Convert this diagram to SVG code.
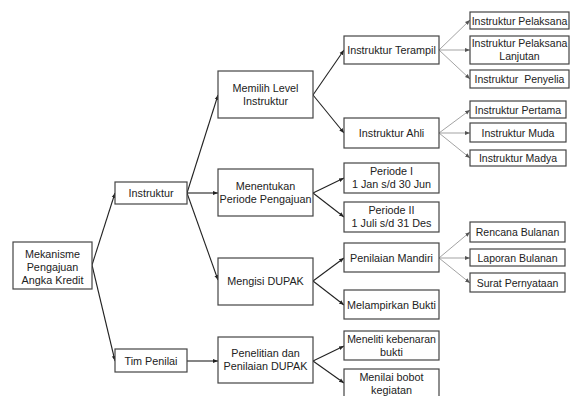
<svg xmlns="http://www.w3.org/2000/svg" width="571" height="396" viewBox="0 0 571 396">
<defs>
<marker id="ah" markerWidth="6" markerHeight="6" refX="5" refY="3" orient="auto" markerUnits="userSpaceOnUse">
<path d="M0,1 L5,3 L0,5 Z" fill="#222"/>
</marker>
<marker id="ahl" markerWidth="6" markerHeight="6" refX="5" refY="3" orient="auto" markerUnits="userSpaceOnUse">
<path d="M0,1 L5,3 L0,5 Z" fill="#555"/>
</marker>
<style>
rect{fill:#fff;stroke:#444;stroke-width:1.2}
text{font-family:"Liberation Sans",Arial,sans-serif;font-size:10.8px;fill:#222;text-anchor:middle}
.s{font-size:10.5px}
.d{stroke:#222;stroke-width:1.1;fill:none;marker-end:url(#ah)}
.l{stroke:#999;stroke-width:0.9;fill:none;marker-end:url(#ahl)}
</style>
</defs>
<rect x="0" y="0" width="571" height="396" style="fill:#fff;stroke:none"/>
<g id="connectors">
<line class="d" x1="92" y1="265" x2="115" y2="193"/>
<line class="d" x1="92" y1="265" x2="115" y2="361"/>
<line class="d" x1="187" y1="193" x2="218" y2="95"/>
<line class="d" x1="187" y1="193" x2="218" y2="193"/>
<line class="d" x1="187" y1="193" x2="218" y2="280"/>
<line class="d" x1="187" y1="361" x2="218" y2="361"/>
<line class="d" x1="313" y1="95" x2="344" y2="50"/>
<line class="d" x1="313" y1="95" x2="344" y2="133"/>
<line class="d" x1="313" y1="193" x2="344" y2="178"/>
<line class="d" x1="313" y1="193" x2="344" y2="217"/>
<line class="d" x1="313" y1="281" x2="344" y2="258"/>
<line class="d" x1="313" y1="281" x2="344" y2="305"/>
<line class="d" x1="313" y1="361" x2="344" y2="346"/>
<line class="d" x1="313" y1="361" x2="344" y2="383"/>
<line class="l" x1="439" y1="50" x2="470" y2="20"/>
<line class="l" x1="439" y1="50" x2="470" y2="50"/>
<line class="l" x1="439" y1="50" x2="470" y2="79"/>
<line class="l" x1="439" y1="133" x2="470" y2="110"/>
<line class="l" x1="439" y1="133" x2="470" y2="133"/>
<line class="l" x1="439" y1="133" x2="470" y2="158"/>
<line class="l" x1="439" y1="258" x2="470" y2="232"/>
<line class="l" x1="439" y1="258" x2="470" y2="258"/>
<line class="l" x1="439" y1="258" x2="470" y2="283"/>
</g>
<g id="mekanisme"><rect x="13" y="242" width="79" height="47"/><text x="52.5" y="258">Mekanisme</text><text x="52.5" y="271">Pengajuan</text><text x="52.5" y="284">Angka Kredit</text></g>
<g id="instruktur"><rect x="115" y="182" width="72" height="22"/><text x="151" y="197">Instruktur</text></g>
<g id="tim-penilai"><rect x="115" y="349" width="72" height="23"/><text x="151" y="364.5">Tim Penilai</text></g>
<g id="memilih"><rect x="218" y="71" width="95" height="47"/><text x="265.5" y="92">Memilih Level</text><text x="265.5" y="105">Instruktur</text></g>
<g id="menentukan"><rect x="218" y="169" width="95" height="47"/><text x="265.5" y="190">Menentukan</text><text x="265.5" y="203">Periode Pengajuan</text></g>
<g id="mengisi"><rect x="218" y="258" width="95" height="47"/><text x="265.5" y="285">Mengisi DUPAK</text></g>
<g id="penelitian"><rect x="218" y="337" width="95" height="46"/><text x="265.5" y="357">Penelitian dan</text><text x="265.5" y="370">Penilaian DUPAK</text></g>
<g id="terampil"><rect x="344" y="36" width="95" height="28"/><text x="391.5" y="54">Instruktur Terampil</text></g>
<g id="ahli"><rect x="344" y="118" width="95" height="30"/><text x="391.5" y="137">Instruktur Ahli</text></g>
<g id="periode1"><rect x="344" y="163" width="95" height="30"/><text x="391.5" y="175">Periode I</text><text x="391.5" y="188">1 Jan s/d 30 Jun</text></g>
<g id="periode2"><rect x="344" y="202" width="95" height="30"/><text x="391.5" y="214">Periode II</text><text x="391.5" y="227">1 Juli s/d 31 Des</text></g>
<g id="penilaian-mandiri"><rect x="344" y="243" width="95" height="29"/><text x="391.5" y="261.5">Penilaian Mandiri</text></g>
<g id="melampirkan"><rect x="344" y="290" width="95" height="29"/><text x="391.5" y="308.5">Melampirkan Bukti</text></g>
<g id="meneliti"><rect x="344" y="331" width="95" height="29"/><text class="s" x="391.5" y="343">Meneliti kebenaran</text><text x="391.5" y="356">bukti</text></g>
<g id="menilai"><rect x="344" y="369" width="95" height="36"/><text x="391.5" y="381">Menilai bobot</text><text x="391.5" y="394">kegiatan</text></g>
<g id="pelaksana"><rect x="470" y="12" width="99" height="17"/><text class="s" x="519.5" y="24.5">Instruktur Pelaksana</text></g>
<g id="pelaksana-lanjutan"><rect x="470" y="36" width="99" height="28"/><text class="s" x="519.5" y="47">Instruktur Pelaksana</text><text class="s" x="519.5" y="60">Lanjutan</text></g>
<g id="penyelia"><rect x="470" y="70" width="99" height="18"/><text class="s" x="519.5" y="83">Instruktur&#160; Penyelia</text></g>
<g id="pertama"><rect x="470" y="101" width="96" height="17"/><text class="s" x="518" y="113.5">Instruktur Pertama</text></g>
<g id="muda"><rect x="470" y="123" width="96" height="19"/><text class="s" x="518" y="136.5">Instruktur Muda</text></g>
<g id="madya"><rect x="470" y="150" width="96" height="16"/><text class="s" x="518" y="162">Instruktur Madya</text></g>
<g id="rencana"><rect x="470" y="222" width="95" height="20"/><text class="s" x="517.5" y="236">Rencana Bulanan</text></g>
<g id="laporan"><rect x="470" y="249" width="95" height="17"/><text class="s" x="517.5" y="261.5">Laporan Bulanan</text></g>
<g id="surat"><rect x="470" y="273" width="95" height="19"/><text class="s" x="517.5" y="286.5">Surat Pernyataan</text></g>
</svg>
